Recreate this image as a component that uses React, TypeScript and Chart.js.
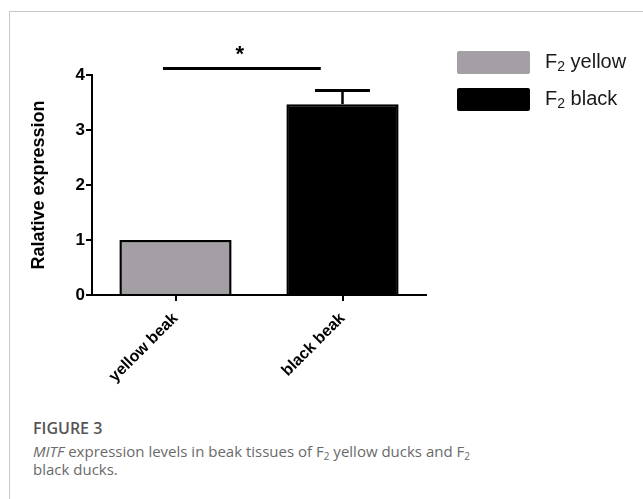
import { useEffect, useRef } from "react";
import { Chart, registerables } from "chart.js";

Chart.register(...registerables);

// ---- data ----
const categories = ["yellow beak", "black beak"];
const values = [1.0, 3.47];
const errors = [0, 0.25];
const barColors = ["#a49fa4", "#000000"];
const legendNames = ["yellow", "black"];
const legendPrefix = "F";
const legendSub = "2";
const yTicks = [0, 1, 2, 3, 4];
const yTitle = "Ralative expression";
// significance bracket (category index range, level in y units)
const sigFrom = -0.075;
const sigTo = 0.87;
const sigLevel = 4.12;
const sigMark = "*";

const FONT = "'Liberation Sans', Arial, Helvetica, sans-serif";

const annotationPlugin = {
  id: "annotationPlugin",
  afterDatasetsDraw(chart: any) {
    const ctx = chart.ctx;
    const xs = chart.scales.x;
    const ys = chart.scales.y;
    const meta = chart.getDatasetMeta(0);
    ctx.save();
    ctx.strokeStyle = "#000";
    ctx.lineCap = "butt";
    meta.data.forEach((bar: any, i: number) => {
      const err = errors[i];
      if (!err) return;
      const yTop = ys.getPixelForValue(values[i] + err);
      const yBase = ys.getPixelForValue(values[i]);
      const half = bar.width * 0.245;
      ctx.lineWidth = 2.5;
      ctx.beginPath();
      ctx.moveTo(bar.x, yBase);
      ctx.lineTo(bar.x, yTop);
      ctx.stroke();
      ctx.lineWidth = 3;
      ctx.beginPath();
      ctx.moveTo(bar.x - half, yTop);
      ctx.lineTo(bar.x + half, yTop);
      ctx.stroke();
    });
    // significance line
    const x1 = xs.getPixelForValue(sigFrom);
    const x2 = xs.getPixelForValue(sigTo);
    const yl = ys.getPixelForValue(sigLevel);
    ctx.lineWidth = 3;
    ctx.beginPath();
    ctx.moveTo(x1, yl);
    ctx.lineTo(x2, yl);
    ctx.stroke();
    ctx.fillStyle = "#000";
    ctx.font = `bold 22px ${FONT}`;
    ctx.textAlign = "center";
    ctx.textBaseline = "alphabetic";
    ctx.fillText(sigMark, (x1 + x2) / 2 - 2, yl - 7);
    ctx.restore();
  },
  afterDraw(chart: any) {
    const ctx = chart.ctx;
    const area = chart.chartArea;
    const left = area.right + 31;
    const top0 = area.top - 24;
    ctx.save();
    legendNames.forEach((name, i) => {
      const top = top0 + i * 37;
      ctx.fillStyle = barColors[i];
      ctx.beginPath();
      if ((ctx as any).roundRect) (ctx as any).roundRect(left, top, 73, 23, 2);
      else ctx.rect(left, top, 73, 23);
      ctx.fill();
      const cy = top + 11.5;
      const tx = left + 88;
      ctx.fillStyle = "#1a1a1a";
      ctx.textBaseline = "middle";
      ctx.textAlign = "left";
      ctx.font = `20px ${FONT}`;
      ctx.fillText(legendPrefix, tx, cy);
      const w1 = ctx.measureText(legendPrefix).width;
      ctx.font = `14px ${FONT}`;
      ctx.fillText(legendSub, tx + w1, cy + 5);
      const w2 = ctx.measureText(legendSub).width;
      ctx.font = `20px ${FONT}`;
      ctx.fillText(" " + name, tx + w1 + w2, cy);
    });
    ctx.restore();
  },
};

function BarChart() {
  const ref = useRef<HTMLCanvasElement | null>(null);
  useEffect(() => {
    if (!ref.current) return;
    const chart = new Chart(ref.current, {
      type: "bar",
      data: {
        labels: categories,
        datasets: [
          {
            data: values,
            backgroundColor: barColors,
            borderColor: "#000",
            borderWidth: 2.5,
            borderSkipped: "start",
            categoryPercentage: 1,
            barPercentage: 0.672,
          },
        ],
      },
      options: {
        responsive: false,
        animation: false,
        devicePixelRatio: 1,
        layout: { padding: { left: 0, top: 75, right: 217, bottom: 0 } },
        plugins: { legend: { display: false }, tooltip: { enabled: false } },
        scales: {
          x: {
            afterFit: (s: any) => {
              s.height = 105;
            },
            grid: {
              display: true,
              drawOnChartArea: false,
              drawTicks: true,
              tickLength: 6,
              color: "#000",
              lineWidth: 2,
              offset: false,
            },
            border: { display: true, color: "#000", width: 2 },
            ticks: {
              color: "#000",
              font: { family: FONT, size: 16, weight: "bold" },
              maxRotation: 45,
              minRotation: 45,
              padding: 8,
            },
          },
          y: {
            min: 0,
            max: 4,
            afterFit: (s: any) => {
              s.width = 92;
            },
            afterBuildTicks: (s: any) => {
              s.ticks = yTicks.map((v) => ({ value: v }));
            },
            grid: {
              display: true,
              drawOnChartArea: false,
              drawTicks: true,
              tickLength: 6,
              color: "#000",
              lineWidth: 2,
            },
            border: { display: true, color: "#000", width: 2 },
            ticks: {
              color: "#000",
              font: { family: FONT, size: 17, weight: "bold" },
              padding: 1,
            },
            title: {
              display: true,
              text: yTitle,
              color: "#000",
              font: { family: FONT, size: 18, weight: "bold" },
              padding: { top: 28, bottom: 0 },
            },
          },
        },
      },
      plugins: [annotationPlugin],
    } as any);
    return () => chart.destroy();
  }, []);
  return (
    <canvas
      ref={ref}
      width={643}
      height={400}
      style={{ position: "absolute", left: 0, top: 0, width: 643, height: 400 }}
    />
  );
}

const subStyle: any = { fontSize: 10, position: "relative", top: 3, verticalAlign: "baseline", lineHeight: 0 };

export default function App() {
  return (
    <div
      style={{
        position: "absolute",
        left: 0,
        top: 0,
        width: 643,
        height: 499,
        overflow: "hidden",
        background: "#fff",
      }}
    >
      <div
        style={{
          position: "absolute",
          left: 9,
          top: 11,
          width: 700,
          height: 600,
          borderTop: "1px solid #c8c8c8",
          borderLeft: "1px solid #c8c8c8",
        }}
      />
      <BarChart />
      <div
        style={{
          position: "absolute",
          left: 33,
          top: 417,
          fontFamily: "'Open Sans', Lato, sans-serif",
          color: "#555",
        }}
      >
        <div style={{ fontSize: 16, fontWeight: 600, lineHeight: "22px" }}>FIGURE 3</div>
        <div style={{ fontSize: 15, fontWeight: 400, lineHeight: "18px", color: "#6a6a6a", marginTop: 3, whiteSpace: "nowrap" }}>
          <i>MITF</i> expression levels in beak tissues of F<span style={subStyle}>2</span> yellow ducks and F
          <span style={subStyle}>2</span>
          <br />
          black ducks.
        </div>
      </div>
    </div>
  );
}
